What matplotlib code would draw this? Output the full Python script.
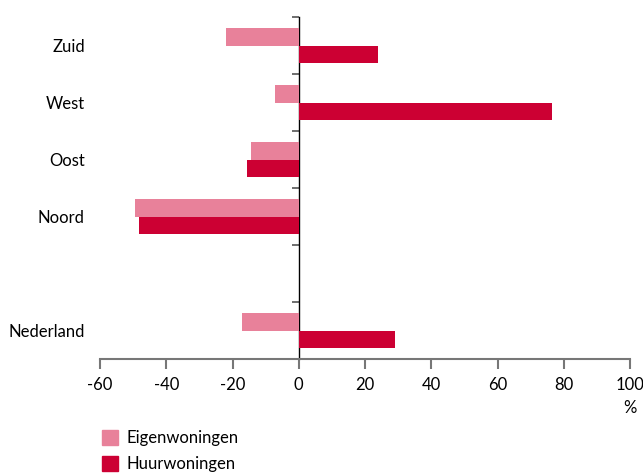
import matplotlib.pyplot as plt
import numpy as np
from matplotlib.patches import Patch

plt.rcParams.update({
    "font.family": ["Lato", "DejaVu Sans"],
    "font.size": 12,
})

PINK = "#E8819A"
RED = "#CC0033"

# bottom to top
regions = ["Nederland", "", "Noord", "Oost", "West", "Zuid"]
eigen = [-17, np.nan, -49.5, -14.5, -7.2, -22]
huur = [29, np.nan, -48.3, -15.7, 76.4, 24]
xticks = [-60, -40, -20, 0, 20, 40, 60, 80, 100]

fig = plt.figure(figsize=(6.43, 4.73), dpi=100)
ax = fig.add_axes([100 / 643, 1 - 359 / 473, 530 / 643, 342 / 473])

y = np.arange(len(regions))
h = 0.3
ax.barh(y + h / 2, eigen, height=h, color=PINK, label="Eigenwoningen")
ax.barh(y - h / 2, huur, height=h, color=RED, label="Huurwoningen")

ax.set_xlim(-60, 100)
ax.set_ylim(-0.5, len(regions) - 0.5)
ax.set_xticks(xticks)
ax.set_xticklabels([str(t) for t in xticks])
ax.set_yticks(y)
ax.set_yticklabels(regions)
ax.tick_params(axis="y", length=0, pad=11)
ax.tick_params(axis="x", direction="out", length=7, width=1.5, color="#777777", pad=6)

for s in ["top", "right", "left"]:
    ax.spines[s].set_visible(False)
ax.spines["bottom"].set_color("#777777")
ax.spines["bottom"].set_linewidth(1.5)

# vertical axis through zero with group separators
zero_pos = (0 - xticks[0]) / (xticks[-1] - xticks[0])
sec = ax.secondary_yaxis(zero_pos)
sec.set_yticks(np.arange(-0.5, len(regions), 1.0))
sec.set_yticklabels([])
sec.tick_params(length=5, width=1.2, color="#555555")
sec.spines["left"].set_color("black")
sec.spines["left"].set_linewidth(1.0)

fig.text(630 / 643, 1 - 408 / 473, "%", ha="center", va="center")

handles = [Patch(color=PINK, label="Eigenwoningen"),
           Patch(color=RED, label="Huurwoningen")]
fig.legend(handles=handles, loc="upper left", bbox_to_anchor=(95 / 643, 1 - 423 / 473),
           frameon=False, handlelength=1.0, handleheight=1.0, handletextpad=0.5,
           labelspacing=0.6, borderaxespad=0)

fig.savefig("out.png", dpi=100)
